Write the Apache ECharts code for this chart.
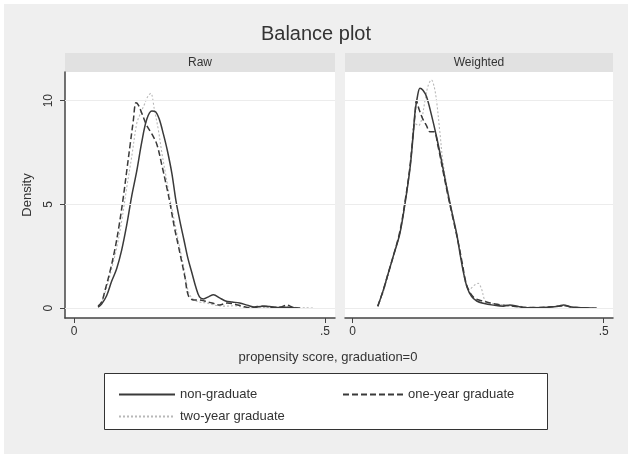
<!DOCTYPE html>
<html><head><meta charset="utf-8">
<script src="https://cdn.jsdelivr.net/npm/echarts@6/dist/echarts.min.js"></script>
<style>html,body{margin:0;padding:0;background:#fff}#c{width:632px;height:458px}</style>
</head><body><div id="c"></div>
<script>
// ---- data ----
const panelNames = ['Raw', 'Weighted'];
const seriesNames = ['non-graduate', 'one-year graduate', 'two-year graduate'];
const xTickValues = [0, 0.5];
const xTickLabels = ['0', '.5'];
const yTickValues = [0, 5, 10];
const yTickLabels = ['0', '5', '10'];

const rawNonX = [0.048,0.055,0.065,0.075,0.085,0.095,0.105,0.115,0.125,0.135,0.145,0.155,0.163,0.17,0.178,0.186,0.195,0.203,0.211,0.219,0.227,0.235,0.243,0.25,0.258,0.268,0.278,0.29,0.302,0.315,0.33,0.345,0.36,0.375,0.39,0.405,0.42,0.435,0.45];
const rawNonY = [0.05,0.2,0.6,1.3,1.9,2.8,4.0,5.4,6.6,8.0,9.1,9.5,9.45,9.1,8.4,7.6,6.5,5.2,4.2,3.3,2.4,1.7,1.0,0.55,0.45,0.55,0.65,0.5,0.35,0.3,0.25,0.15,0.05,0.1,0.08,0.03,0.05,0.02,0.01];

const rawOneX = [0.048,0.055,0.062,0.072,0.082,0.09,0.098,0.105,0.112,0.118,0.1235,0.128,0.135,0.145,0.155,0.165,0.175,0.185,0.191,0.2,0.208,0.215,0.221,0.228,0.238,0.25,0.26,0.275,0.29,0.305,0.32,0.335,0.35,0.365,0.38,0.395,0.41,0.424,0.435,0.445];
const rawOneY = [0.1,0.3,0.88,1.8,2.9,4.0,5.3,6.6,7.9,9.0,9.9,9.8,9.4,8.8,8.4,7.9,6.9,5.8,5.1,3.9,3.0,2.2,1.5,0.6,0.4,0.4,0.35,0.25,0.16,0.25,0.2,0.1,0.02,0.08,0.1,0.05,0.05,0.15,0.05,0.02];

const rawTwoX = [0.048,0.055,0.065,0.075,0.085,0.095,0.105,0.115,0.125,0.131,0.14,0.147,0.153,0.16,0.168,0.175,0.183,0.191,0.2,0.21,0.22,0.228,0.237,0.25,0.265,0.28,0.3,0.32,0.34,0.36,0.38,0.4,0.42,0.44,0.46,0.48];
const rawTwoY = [0.05,0.3,1.0,1.9,2.9,4.2,5.8,7.3,8.9,9.3,9.8,10.2,10.35,9.6,8.6,7.5,6.4,5.3,4.2,3.0,1.8,0.8,0.45,0.3,0.25,0.15,0.1,0.12,0.05,0.06,0.04,0.05,0.1,0.04,0.02,0.01];

const wNonX = [0.05,0.06,0.071,0.082,0.094,0.104,0.114,0.12,0.124,0.129,0.134,0.14,0.147,0.157,0.167,0.177,0.187,0.197,0.207,0.214,0.22,0.228,0.237,0.247,0.26,0.28,0.3,0.313,0.33,0.35,0.366,0.39,0.41,0.42,0.435,0.46,0.486];
const wNonY = [0.1,0.8,1.7,2.6,3.6,5.0,6.7,8.2,9.4,10.2,10.6,10.5,10.2,9.3,8.26,7.1,5.85,4.7,3.6,2.6,1.8,1.0,0.56,0.35,0.24,0.15,0.1,0.16,0.08,0.02,0.02,0.05,0.1,0.16,0.06,0.02,0.01];

const wOneX = [0.05,0.06,0.071,0.082,0.094,0.104,0.114,0.12,0.124,0.127,0.132,0.14,0.147,0.154,0.162,0.17,0.18,0.19,0.2,0.21,0.218,0.226,0.235,0.245,0.26,0.28,0.3,0.32,0.34,0.36,0.38,0.4,0.42,0.44,0.47];
const wOneY = [0.1,0.8,1.7,2.6,3.7,5.1,6.8,8.3,9.3,10.0,9.6,9.1,8.8,8.5,8.5,7.8,6.6,5.4,4.3,3.2,2.2,1.2,0.7,0.45,0.35,0.22,0.15,0.1,0.05,0.03,0.05,0.08,0.12,0.05,0.01];

const wTwoX = [0.05,0.06,0.071,0.082,0.094,0.104,0.114,0.124,0.131,0.137,0.144,0.15,0.157,0.162,0.167,0.174,0.18,0.19,0.2,0.21,0.218,0.225,0.232,0.242,0.25,0.257,0.264,0.275,0.29,0.31,0.33,0.35,0.37,0.39,0.41,0.43,0.45,0.48];
const wTwoY = [0.1,0.7,1.6,2.6,3.6,5.0,6.8,8.9,8.8,9.07,10.0,10.7,11.0,10.7,10.0,8.4,7.0,5.6,4.4,3.2,2.1,1.2,0.9,1.1,1.2,0.9,0.35,0.25,0.2,0.12,0.1,0.05,0.04,0.05,0.1,0.08,0.04,0.01];

// ---- chart ----
const FONT = '"Liberation Sans", Arial, sans-serif';
const zip = (xs, ys) => xs.map((x, i) => [x, ys[i]]);
const styles = [
  {color: '#3a3a3a', width: 1.5, type: 'solid'},
  {color: '#3a3a3a', width: 1.5, type: [6, 3]},
  {color: '#b8b8b8', width: 1.1, type: [2, 2]}
];
const panelData = [
  [zip(rawNonX, rawNonY), zip(rawOneX, rawOneY), zip(rawTwoX, rawTwoY)],
  [zip(wNonX, wNonY), zip(wOneX, wOneY), zip(wTwoX, wTwoY)]
];
const grids = [
  {left: 65, top: 72, width: 270, height: 246},
  {left: 345, top: 72, width: 268, height: 246}
];
const xRanges = [[-0.0179, 0.52], [-0.0153, 0.5185]];

const series = [];
panelData.forEach((pd, gi) => {
  pd.forEach((d, si) => {
    const s = {
      type: 'line', name: seriesNames[si], xAxisIndex: gi, yAxisIndex: gi,
      data: d, showSymbol: false, symbol: 'none', smooth: 0.35,
      lineStyle: {color: styles[si].color, width: styles[si].width, type: styles[si].type},
      itemStyle: {color: styles[si].color},
      z: 3 - si, animation: false
    };
    if (si === 0) {
      s.markLine = {
        silent: true, symbol: 'none', label: {show: false}, animation: false,
        lineStyle: {color: '#ececec', width: 1, type: 'solid'},
        data: yTickValues.map(v => ({yAxis: v}))
      };
    }
    series.push(s);
  });
});

const legendCommon = {
  orient: 'vertical', itemHeight: 14, selectedMode: false,
  itemStyle: {opacity: 0, borderWidth: 0},
  textStyle: {fontFamily: FONT, fontSize: 13, color: '#333'}
};

const option = {
  backgroundColor: '#ffffff',
  animation: false,
  textStyle: {fontFamily: FONT},
  title: [
    {text: 'Balance plot', left: 'center', top: 19,
     textStyle: {fontFamily: FONT, fontSize: 20, fontWeight: 'normal', color: '#333'}}
  ],
  graphic: [
    {type: 'rect', shape: {x: 4, y: 4, width: 624, height: 450}, style: {fill: '#efefef'}, z: -10, silent: true},
    {type: 'rect', shape: {x: 65, y: 53, width: 270, height: 19}, style: {fill: '#e1e1e1'}, z: -5, silent: true},
    {type: 'rect', shape: {x: 345, y: 53, width: 268, height: 19}, style: {fill: '#e1e1e1'}, z: -5, silent: true},
    {type: 'rect', shape: {x: 65, y: 72, width: 270, height: 246}, style: {fill: '#ffffff'}, z: -5, silent: true},
    {type: 'rect', shape: {x: 345, y: 72, width: 268, height: 246}, style: {fill: '#ffffff'}, z: -5, silent: true},
    {type: 'text', x: 200, y: 62.5, style: {text: panelNames[0], font: '12px ' + FONT, fill: '#333', align: 'center', verticalAlign: 'middle'}, z: 5, silent: true},
    {type: 'text', x: 479, y: 62.5, style: {text: panelNames[1], font: '12px ' + FONT, fill: '#333', align: 'center', verticalAlign: 'middle'}, z: 5, silent: true},
    {type: 'text', x: 328, y: 357, style: {text: 'propensity score, graduation=0', font: '13px ' + FONT, fill: '#333', align: 'center', verticalAlign: 'middle'}, z: 5, silent: true},
    {type: 'rect', shape: {x: 104.5, y: 373.5, width: 443, height: 56}, style: {fill: '#ffffff', stroke: '#333', lineWidth: 1}, z: -4, silent: true}
  ],
  legend: [
    Object.assign({}, legendCommon, {data: [seriesNames[0], seriesNames[2]], left: 113, top: 383, itemWidth: 56, itemGap: 9}),
    Object.assign({}, legendCommon, {data: [seriesNames[1]], left: 337, top: 383, itemWidth: 60})
  ],
  grid: grids,
  xAxis: grids.map((g, i) => ({
    type: 'value', gridIndex: i, min: xRanges[i][0], max: xRanges[i][1],
    axisLine: {show: true, onZero: false, lineStyle: {color: '#444', width: 1.5}},
    axisTick: {show: true, customValues: xTickValues, length: 5, lineStyle: {color: '#444', width: 1}},
    axisLabel: {show: true, customValues: xTickValues, margin: 8, fontSize: 12, color: '#333', fontFamily: FONT,
      formatter: v => xTickLabels[xTickValues.indexOf(Math.round(v * 1000) / 1000)] ?? ''},
    splitLine: {show: false}
  })),
  yAxis: grids.map((g, i) => ({
    type: 'value', gridIndex: i, min: -0.47, max: 11.38,
    name: i === 0 ? 'Density' : '', nameLocation: 'middle', nameRotate: 90, nameGap: 31,
    nameTextStyle: {fontFamily: FONT, fontSize: 13, color: '#333'},
    axisLine: {show: i === 0, onZero: false, lineStyle: {color: '#444', width: 1.5}},
    axisTick: {show: i === 0, customValues: yTickValues, length: 5, lineStyle: {color: '#444', width: 1}},
    axisLabel: {show: i === 0, customValues: yTickValues, rotate: 90, margin: 10, fontSize: 12, color: '#333', fontFamily: FONT,
      formatter: v => yTickLabels[yTickValues.indexOf(v)] ?? ''},
    splitLine: {show: false}
  })),
  series: series
};
const chart = echarts.init(document.getElementById('c'), null, {renderer: 'canvas'});
chart.setOption(option);
</script></body></html>
